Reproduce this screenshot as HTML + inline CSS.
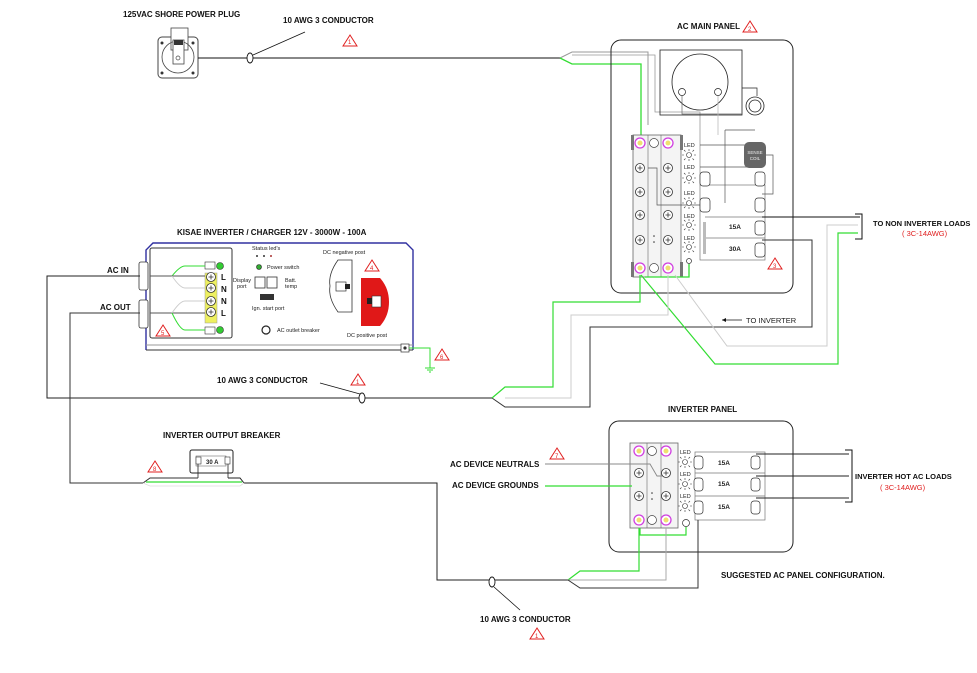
<!DOCTYPE html>
<html><head><meta charset="utf-8"><style>
html,body{margin:0;padding:0;background:#fff}
svg{display:block}
text{font-family:"Liberation Sans",Arial,sans-serif}
.b{font-weight:bold;font-size:8px;fill:#111}
.s{font-size:5.5px;fill:#222}
.r{font-size:7.5px;fill:#e02020}
</style></head><body>
<svg width="977" height="673" viewBox="0 0 977 673" xmlns="http://www.w3.org/2000/svg">
<defs>
<g id="tri"><path d="M0,-6 L7,5 L-7,5 Z" fill="#fff" stroke="#e02020" stroke-width="1"/></g>
<g id="mag"><circle r="5" fill="#fff" stroke="#d040e0" stroke-width="1.3"/><circle r="2.5" fill="#f0e070"/></g>
<g id="scr"><circle r="4.5" fill="#fff" stroke="#333" stroke-width="0.8"/><path d="M-2.5,0H2.5M0,-2.5V2.5" stroke="#333" stroke-width="0.8"/></g>
<g id="led"><circle r="2.5" fill="#fff" stroke="#333" stroke-width="0.6"/><path d="M-5,0h-2M5,0h2M0,-4v-2M0,4v2M-3.5,-3.5l-1.5,-1.5M3.5,-3.5l1.5,-1.5M-3.5,3.5l-1.5,1.5M3.5,3.5l1.5,1.5" stroke="#333" stroke-width="0.6"/></g>
</defs>

<text x="123" y="17" class="b">125VAC  SHORE POWER PLUG</text>
<text x="283" y="23" class="b">10 AWG 3 CONDUCTOR</text>
<use href="#tri" x="350" y="41"/><text x="348" y="44" class="r" style="font-size:6px">1</text>
<rect x="158" y="37" width="40" height="41" rx="4" fill="#fff" stroke="#444" stroke-width="1"/>
<rect x="171" y="28" width="17" height="22" fill="#fff" stroke="#444" stroke-width="0.8"/>
<circle cx="178" cy="57" r="16" fill="none" stroke="#444" stroke-width="0.8"/>
<rect x="173" y="40" width="11" height="24" fill="#fff" stroke="#444" stroke-width="0.8"/>
<rect x="174" y="40" width="9" height="5" fill="#333"/>
<circle cx="178" cy="58" r="2" fill="none" stroke="#444" stroke-width="0.7"/>
<circle cx="162" cy="43" r="1.5" fill="#333"/><circle cx="193" cy="43" r="1.5" fill="#333"/><circle cx="162" cy="73" r="1.5" fill="#333"/><circle cx="193" cy="73" r="1.5" fill="#333"/>
<line x1="198" y1="58" x2="560" y2="58" stroke="#111" stroke-width="1"/>
<ellipse cx="250" cy="58" rx="3" ry="5" fill="#fff" stroke="#111" stroke-width="0.9"/>
<line x1="253" y1="55" x2="305" y2="32" stroke="#111" stroke-width="0.8"/>
<polyline points="560,58 572,52 648,52 648,125" fill="none" stroke="#999" stroke-width="1"/>
<polyline points="560,58 572,64 641,64 641,136" fill="none" stroke="#3d3" stroke-width="1.3"/>
<polyline points="572,55 655,55 655,112 700,112 700,185" fill="none" stroke="#999" stroke-width="0.8"/>

<text x="677" y="29" class="b">AC MAIN PANEL</text>
<use href="#tri" x="750" y="27"/><text x="748" y="31" class="r" style="font-size:6px">2</text>
<rect x="611" y="40" width="182" height="253" rx="10" fill="none" stroke="#222" stroke-width="1"/>
<rect x="660" y="50" width="82" height="65" fill="none" stroke="#222" stroke-width="0.8"/>
<circle cx="700" cy="82" r="28" fill="none" stroke="#222" stroke-width="0.8"/>
<circle cx="682" cy="92" r="3.5" fill="#fff" stroke="#222" stroke-width="0.7"/><circle cx="718" cy="92" r="3.5" fill="#fff" stroke="#222" stroke-width="0.7"/>
<polyline points="682,96 682,114 742,114" fill="none" stroke="#666" stroke-width="0.7"/>
<polyline points="718,96 718,135" fill="none" stroke="#bbb" stroke-width="0.8"/>
<polyline points="742,88 757,88 757,96" fill="none" stroke="#222" stroke-width="0.7"/>
<circle cx="755" cy="106" r="9" fill="none" stroke="#222" stroke-width="0.8"/><circle cx="755" cy="106" r="6" fill="none" stroke="#222" stroke-width="0.8"/>
<rect x="633" y="135" width="48" height="142" fill="#f4f4f4" stroke="#666" stroke-width="0.8"/>
<line x1="648" y1="135" x2="648" y2="277" stroke="#666" stroke-width="0.6"/>
<line x1="661" y1="135" x2="661" y2="277" stroke="#666" stroke-width="0.6"/>
<rect x="631" y="135" width="3" height="15" fill="#777"/><rect x="680" y="135" width="3" height="15" fill="#777"/>
<rect x="631" y="262" width="3" height="15" fill="#777"/><rect x="680" y="262" width="3" height="15" fill="#777"/>
<use href="#mag" x="640" y="143"/><use href="#mag" x="668" y="143"/>
<circle cx="654" cy="143" r="4.5" fill="#fff" stroke="#444" stroke-width="0.7"/>
<use href="#mag" x="640" y="268"/><use href="#mag" x="668" y="268"/>
<circle cx="654" cy="268" r="4.5" fill="#fff" stroke="#444" stroke-width="0.7"/>
<use href="#scr" x="640" y="168"/><use href="#scr" x="668" y="168"/>
<use href="#scr" x="640" y="192"/><use href="#scr" x="668" y="192"/>
<use href="#scr" x="640" y="215"/><use href="#scr" x="668" y="215"/>
<use href="#scr" x="640" y="240"/><use href="#scr" x="668" y="240"/>
<circle cx="654" cy="236" r="0.8" fill="#333"/><circle cx="654" cy="242" r="0.8" fill="#333"/>
<circle cx="689" cy="261" r="2.5" fill="#fff" stroke="#333" stroke-width="0.7"/>
<polyline points="689,264 689,277 645,277" fill="none" stroke="#3d3" stroke-width="1.3"/>
<polyline points="648,168 657,168 657,205 700,205" fill="none" stroke="#555" stroke-width="0.7"/>
<text x="684" y="147" class="s">LED</text><use href="#led" x="689" y="155"/>
<text x="684" y="169" class="s">LED</text><use href="#led" x="689" y="178"/>
<text x="684" y="195" class="s">LED</text><use href="#led" x="689" y="203"/>
<text x="684" y="218" class="s">LED</text><use href="#led" x="689" y="225"/>
<text x="684" y="240" class="s">LED</text><use href="#led" x="689" y="247"/>
<rect x="700" y="185" width="65" height="75" fill="none" stroke="#777" stroke-width="0.7"/>
<line x1="705" y1="217" x2="765" y2="217" stroke="#777" stroke-width="0.7"/>
<line x1="705" y1="238" x2="765" y2="238" stroke="#777" stroke-width="0.7"/>
<line x1="700" y1="145" x2="745" y2="145" stroke="#555" stroke-width="0.7"/>
<line x1="700" y1="167" x2="760" y2="167" stroke="#555" stroke-width="0.7"/>
<line x1="725" y1="130" x2="755" y2="130" stroke="#555" stroke-width="0.7"/>
<line x1="725" y1="130" x2="725" y2="203" stroke="#555" stroke-width="0.7"/>
<rect x="700" y="172" width="10" height="14" rx="3" fill="#fff" stroke="#333" stroke-width="0.7"/>
<rect x="700" y="198" width="10" height="14" rx="3" fill="#fff" stroke="#333" stroke-width="0.7"/>
<rect x="755" y="172" width="10" height="14" rx="3" fill="#fff" stroke="#333" stroke-width="0.7"/>
<rect x="755" y="198" width="10" height="14" rx="3" fill="#fff" stroke="#333" stroke-width="0.7"/>
<rect x="755" y="221" width="10" height="14" rx="3" fill="#fff" stroke="#333" stroke-width="0.7"/>
<rect x="755" y="243" width="10" height="14" rx="3" fill="#fff" stroke="#333" stroke-width="0.7"/>
<rect x="703" y="222" width="3" height="32" fill="#bbb"/>
<polyline points="766,155 773,155 773,194 762,194" fill="none" stroke="#555" stroke-width="0.7"/>
<rect x="744" y="142" width="22" height="26" rx="5" fill="#666"/>
<text x="755" y="154" class="s" text-anchor="middle" style="fill:#eee;font-size:4.5px">SENSE</text><text x="755" y="160" class="s" text-anchor="middle" style="fill:#eee;font-size:4.5px">COIL</text>
<text x="729" y="229" class="s" style="font-weight:bold;font-size:6.5px">15A</text>
<text x="729" y="251" class="s" style="font-weight:bold;font-size:6.5px">30A</text>
<use href="#tri" x="775" y="264"/><text x="773" y="268" class="r" style="font-size:6px">3</text>
<polyline points="762,217 860,217" fill="none" stroke="#111" stroke-width="0.9"/>
<polyline points="855,214 862,214 862,239 855,239" fill="none" stroke="#111" stroke-width="1"/>
<text x="873" y="226" class="b" style="font-size:7.5px">TO NON INVERTER LOADS</text>
<text x="902" y="236" class="r">( 3C-14AWG)</text>
<polyline points="762,240 812,240 812,327 590,327 590,407 505,407 492,398" fill="none" stroke="#333" stroke-width="1"/>
<polyline points="675,275 727,346 827,346 827,225 858,225" fill="none" stroke="#ccc" stroke-width="1"/>
<polyline points="641,275 715,364 838,364 838,233 858,233" fill="none" stroke="#3d3" stroke-width="1.2"/>
<polyline points="640,275 640,302 553,302 553,387 505,387 492,398" fill="none" stroke="#3d3" stroke-width="1.2"/>
<polyline points="668,275 668,315 571,315 571,398 505,398" fill="none" stroke="#ccc" stroke-width="1"/>
<line x1="722" y1="320" x2="742" y2="320" stroke="#111" stroke-width="0.8"/><path d="M722,320 l4,-2 v4z" fill="#111"/>
<text x="746" y="323" style="font-size:7.5px;fill:#222">TO INVERTER</text>

<text x="177" y="235" class="b">KISAE INVERTER / CHARGER 12V - 3000W - 100A</text>
<path d="M146,350 V250 L153,243 H406 L413,250 V350" fill="none" stroke="#3030a0" stroke-width="1.4"/>
<line x1="146" y1="345" x2="413" y2="345" stroke="#999" stroke-width="1"/>
<line x1="146" y1="350" x2="413" y2="350" stroke="#333" stroke-width="1"/>
<rect x="150" y="248" width="82" height="90" rx="2" fill="none" stroke="#333" stroke-width="1"/>
<rect x="139" y="262" width="9" height="28" rx="2" fill="#fff" stroke="#333" stroke-width="0.8"/>
<rect x="139" y="300" width="9" height="28" rx="2" fill="#fff" stroke="#333" stroke-width="0.8"/>
<text x="107" y="273" class="b">AC IN</text>
<text x="100" y="310" class="b">AC OUT</text>
<rect x="205" y="273" width="12" height="50" fill="#eef060" stroke="#999" stroke-width="0.5"/>
<use href="#scr" x="211" y="277"/><use href="#scr" x="211" y="288"/><use href="#scr" x="211" y="301"/><use href="#scr" x="211" y="312"/>
<text x="221" y="280" class="b">L</text><text x="221" y="292" class="b">N</text><text x="221" y="304" class="b">N</text><text x="221" y="316" class="b">L</text>
<rect x="205" y="262" width="10" height="7" fill="#fff" stroke="#333" stroke-width="0.6"/><circle cx="220" cy="266" r="3.5" fill="#3c3" stroke="#333" stroke-width="0.6"/>
<rect x="205" y="327" width="10" height="7" fill="#fff" stroke="#333" stroke-width="0.6"/><circle cx="220" cy="330" r="3.5" fill="#3c3" stroke="#333" stroke-width="0.6"/>
<path d="M150,276 H172 Q180,266 185,266 H205" fill="none" stroke="#3d3" stroke-width="1"/>
<path d="M150,276 H205" fill="none" stroke="#555" stroke-width="0.9"/>
<path d="M172,276 Q180,288 185,288 H205" fill="none" stroke="#ccc" stroke-width="0.9"/>
<path d="M150,313 H205" fill="none" stroke="#555" stroke-width="0.9"/>
<path d="M172,313 Q180,301 185,301 H205" fill="none" stroke="#ccc" stroke-width="0.9"/>
<path d="M172,313 Q180,330 185,330 H205" fill="none" stroke="#3d3" stroke-width="1"/>
<use href="#tri" x="163" y="331"/><text x="161" y="335" class="r" style="font-size:6px">5</text>
<text x="252" y="250" class="s">Status led's</text>
<circle cx="257" cy="256" r="1" fill="#333"/><circle cx="264" cy="256" r="1" fill="#333"/><circle cx="271" cy="256" r="1" fill="#a33"/>
<circle cx="259" cy="267" r="2.5" fill="#3a3" stroke="#222" stroke-width="0.6"/><text x="267" y="269" class="s">Power switch</text>
<text x="233" y="282" class="s">Display</text><text x="237" y="288" class="s">port</text>
<rect x="255" y="277" width="10" height="11" fill="#fff" stroke="#333" stroke-width="0.8"/><rect x="267" y="277" width="10" height="11" fill="#fff" stroke="#333" stroke-width="0.8"/>
<text x="285" y="282" class="s">Batt.</text><text x="285" y="288" class="s">temp</text>
<rect x="260" y="294" width="14" height="6" fill="#333"/>
<text x="252" y="310" class="s">Ign. start port</text>
<circle cx="266" cy="330" r="4" fill="#fff" stroke="#222" stroke-width="1.2"/><text x="277" y="332" class="s">AC outlet breaker</text>
<text x="323" y="254" class="s">DC negative post</text>
<path d="M338,260 H352 V312 H338 Q328,298 330,286 Q328,274 338,260Z" fill="#fff" stroke="#333" stroke-width="0.8"/>
<rect x="336" y="282" width="10" height="9" fill="#fff" stroke="#333" stroke-width="0.7"/><rect x="345" y="284" width="5" height="5" fill="#222"/>
<use href="#tri" x="372" y="266"/><text x="370" y="270" class="r" style="font-size:6px">4</text>
<path d="M361,278 H380 Q389,288 389,302 Q389,316 380,326 H361Z" fill="#e01818"/>
<rect x="372" y="296" width="9" height="11" fill="#fff" stroke="#333" stroke-width="0.6"/><rect x="367" y="298" width="5" height="6" fill="#222"/>
<text x="347" y="337" class="s">DC positive post</text>
<rect x="401" y="344" width="8" height="8" fill="#fff" stroke="#333" stroke-width="0.7"/><circle cx="405" cy="348" r="1.6" fill="#333"/>
<polyline points="409,348 430,348 430,368" fill="none" stroke="#3d3" stroke-width="1"/>
<path d="M425,368h10M427,370h6M429,372h2" stroke="#3d3" stroke-width="1"/>
<use href="#tri" x="442" y="355"/><text x="440" y="359" class="r" style="font-size:6px">6</text>

<polyline points="140,276 47,276 47,398 492,398" fill="none" stroke="#222" stroke-width="1"/>
<ellipse cx="362" cy="398" rx="3" ry="5" fill="#fff" stroke="#111" stroke-width="0.9"/>
<line x1="360" y1="394" x2="320" y2="383" stroke="#111" stroke-width="0.8"/>
<text x="217" y="383" class="b">10 AWG 3 CONDUCTOR</text>
<use href="#tri" x="358" y="380"/><text x="356" y="384" class="r" style="font-size:6px">1</text>

<text x="163" y="438" class="b">INVERTER OUTPUT BREAKER</text>
<rect x="190" y="450" width="43" height="23" rx="2" fill="#fff" stroke="#222" stroke-width="1"/>
<rect x="196" y="456" width="30" height="10" fill="none" stroke="#555" stroke-width="0.5"/>
<text x="206" y="464" class="s" style="font-weight:bold;font-size:6px">30 A</text>
<rect x="196" y="457" width="5" height="7" fill="#fff" stroke="#333" stroke-width="0.6"/><rect x="225" y="457" width="5" height="7" fill="#fff" stroke="#333" stroke-width="0.6"/>
<polyline points="198,464 198,478" fill="none" stroke="#222" stroke-width="0.8"/>
<polyline points="228,464 228,478" fill="none" stroke="#222" stroke-width="0.8"/>
<use href="#tri" x="155" y="467"/><text x="153" y="471" class="r" style="font-size:6px">8</text>
<polyline points="140,313 70,313 70,483 143,483 150,478 198,478" fill="none" stroke="#333" stroke-width="1"/>
<polyline points="228,478 240,478 244,483 437,483 437,580 568,580" fill="none" stroke="#222" stroke-width="1"/>
<polyline points="143,483 150,486 240,486 244,483" fill="none" stroke="#ddd" stroke-width="0.8"/>
<line x1="146" y1="482" x2="242" y2="482" stroke="#3d3" stroke-width="1.2"/>

<text x="668" y="412" class="b">INVERTER PANEL</text>
<rect x="609" y="421" width="184" height="131" rx="10" fill="none" stroke="#222" stroke-width="1"/>
<rect x="630" y="443" width="48" height="85" fill="#f4f4f4" stroke="#666" stroke-width="0.8"/>
<line x1="647" y1="443" x2="647" y2="528" stroke="#666" stroke-width="0.6"/><line x1="661" y1="443" x2="661" y2="528" stroke="#666" stroke-width="0.6"/>
<use href="#mag" x="639" y="451"/><use href="#mag" x="666" y="451"/><circle cx="652" cy="451" r="4.5" fill="#fff" stroke="#444" stroke-width="0.7"/>
<use href="#mag" x="639" y="520"/><use href="#mag" x="666" y="520"/><circle cx="652" cy="520" r="4.5" fill="#fff" stroke="#444" stroke-width="0.7"/>
<use href="#scr" x="639" y="473"/><use href="#scr" x="666" y="473"/><use href="#scr" x="639" y="496"/><use href="#scr" x="666" y="496"/>
<circle cx="652" cy="493" r="0.8" fill="#333"/><circle cx="652" cy="499" r="0.8" fill="#333"/>
<circle cx="686" cy="523" r="3.5" fill="#fff" stroke="#333" stroke-width="0.7"/>
<polyline points="640,528 640,535 686,535 686,527" fill="none" stroke="#3d3" stroke-width="1.2"/>
<text x="680" y="454" class="s">LED</text><use href="#led" x="685" y="462"/>
<text x="680" y="476" class="s">LED</text><use href="#led" x="685" y="484"/>
<text x="680" y="498" class="s">LED</text><use href="#led" x="685" y="506"/>
<rect x="695" y="452" width="70" height="68" fill="none" stroke="#777" stroke-width="0.7"/>
<line x1="695" y1="473" x2="765" y2="473" stroke="#777" stroke-width="0.7"/><line x1="695" y1="496" x2="765" y2="496" stroke="#777" stroke-width="0.7"/>
<rect x="694" y="456" width="9" height="13" rx="3" fill="#fff" stroke="#333" stroke-width="0.7"/>
<rect x="694" y="478" width="9" height="13" rx="3" fill="#fff" stroke="#333" stroke-width="0.7"/>
<rect x="694" y="501" width="9" height="13" rx="3" fill="#fff" stroke="#333" stroke-width="0.7"/>
<rect x="751" y="456" width="9" height="13" rx="3" fill="#fff" stroke="#333" stroke-width="0.7"/>
<rect x="751" y="478" width="9" height="13" rx="3" fill="#fff" stroke="#333" stroke-width="0.7"/>
<rect x="751" y="501" width="9" height="13" rx="3" fill="#fff" stroke="#333" stroke-width="0.7"/>
<text x="718" y="465" class="s" style="font-weight:bold;font-size:6.5px">15A</text>
<text x="718" y="486" class="s" style="font-weight:bold;font-size:6.5px">15A</text>
<text x="718" y="509" class="s" style="font-weight:bold;font-size:6.5px">15A</text>
<polyline points="756,454 849,454" fill="none" stroke="#222" stroke-width="0.9"/>
<polyline points="756,476 849,476" fill="none" stroke="#222" stroke-width="0.9"/>
<polyline points="756,498 849,498" fill="none" stroke="#222" stroke-width="0.9"/>
<polyline points="845,450 852,450 852,502 845,502" fill="none" stroke="#111" stroke-width="1"/>
<text x="855" y="479" class="b" style="font-size:7.5px">INVERTER HOT AC LOADS</text>
<text x="880" y="490" class="r">( 3C-14AWG)</text>
<text x="450" y="467" class="b">AC DEVICE NEUTRALS</text>
<text x="452" y="488" class="b">AC DEVICE GROUNDS</text>
<polyline points="545,464 650,464 657,476 662,476" fill="none" stroke="#888" stroke-width="0.9"/>
<line x1="545" y1="486" x2="632" y2="486" stroke="#3d3" stroke-width="1.2"/>
<use href="#tri" x="557" y="454"/><text x="555" y="458" class="r" style="font-size:6px">7</text>
<polyline points="568,580 580,571 639,571 639,528" fill="none" stroke="#3d3" stroke-width="1.2"/>
<polyline points="568,580 666,580 666,528" fill="none" stroke="#aaa" stroke-width="1"/>
<polyline points="568,580 580,588 698,588 698,520" fill="none" stroke="#333" stroke-width="1"/>
<ellipse cx="492" cy="582" rx="3" ry="5" fill="#fff" stroke="#111" stroke-width="0.9"/>
<line x1="494" y1="587" x2="520" y2="610" stroke="#111" stroke-width="0.8"/>
<text x="480" y="622" class="b">10 AWG 3 CONDUCTOR</text>
<use href="#tri" x="537" y="634"/><text x="535" y="638" class="r" style="font-size:6px">1</text>
<text x="721" y="578" class="b">SUGGESTED AC PANEL CONFIGURATION.</text>
</svg>
</body></html>
